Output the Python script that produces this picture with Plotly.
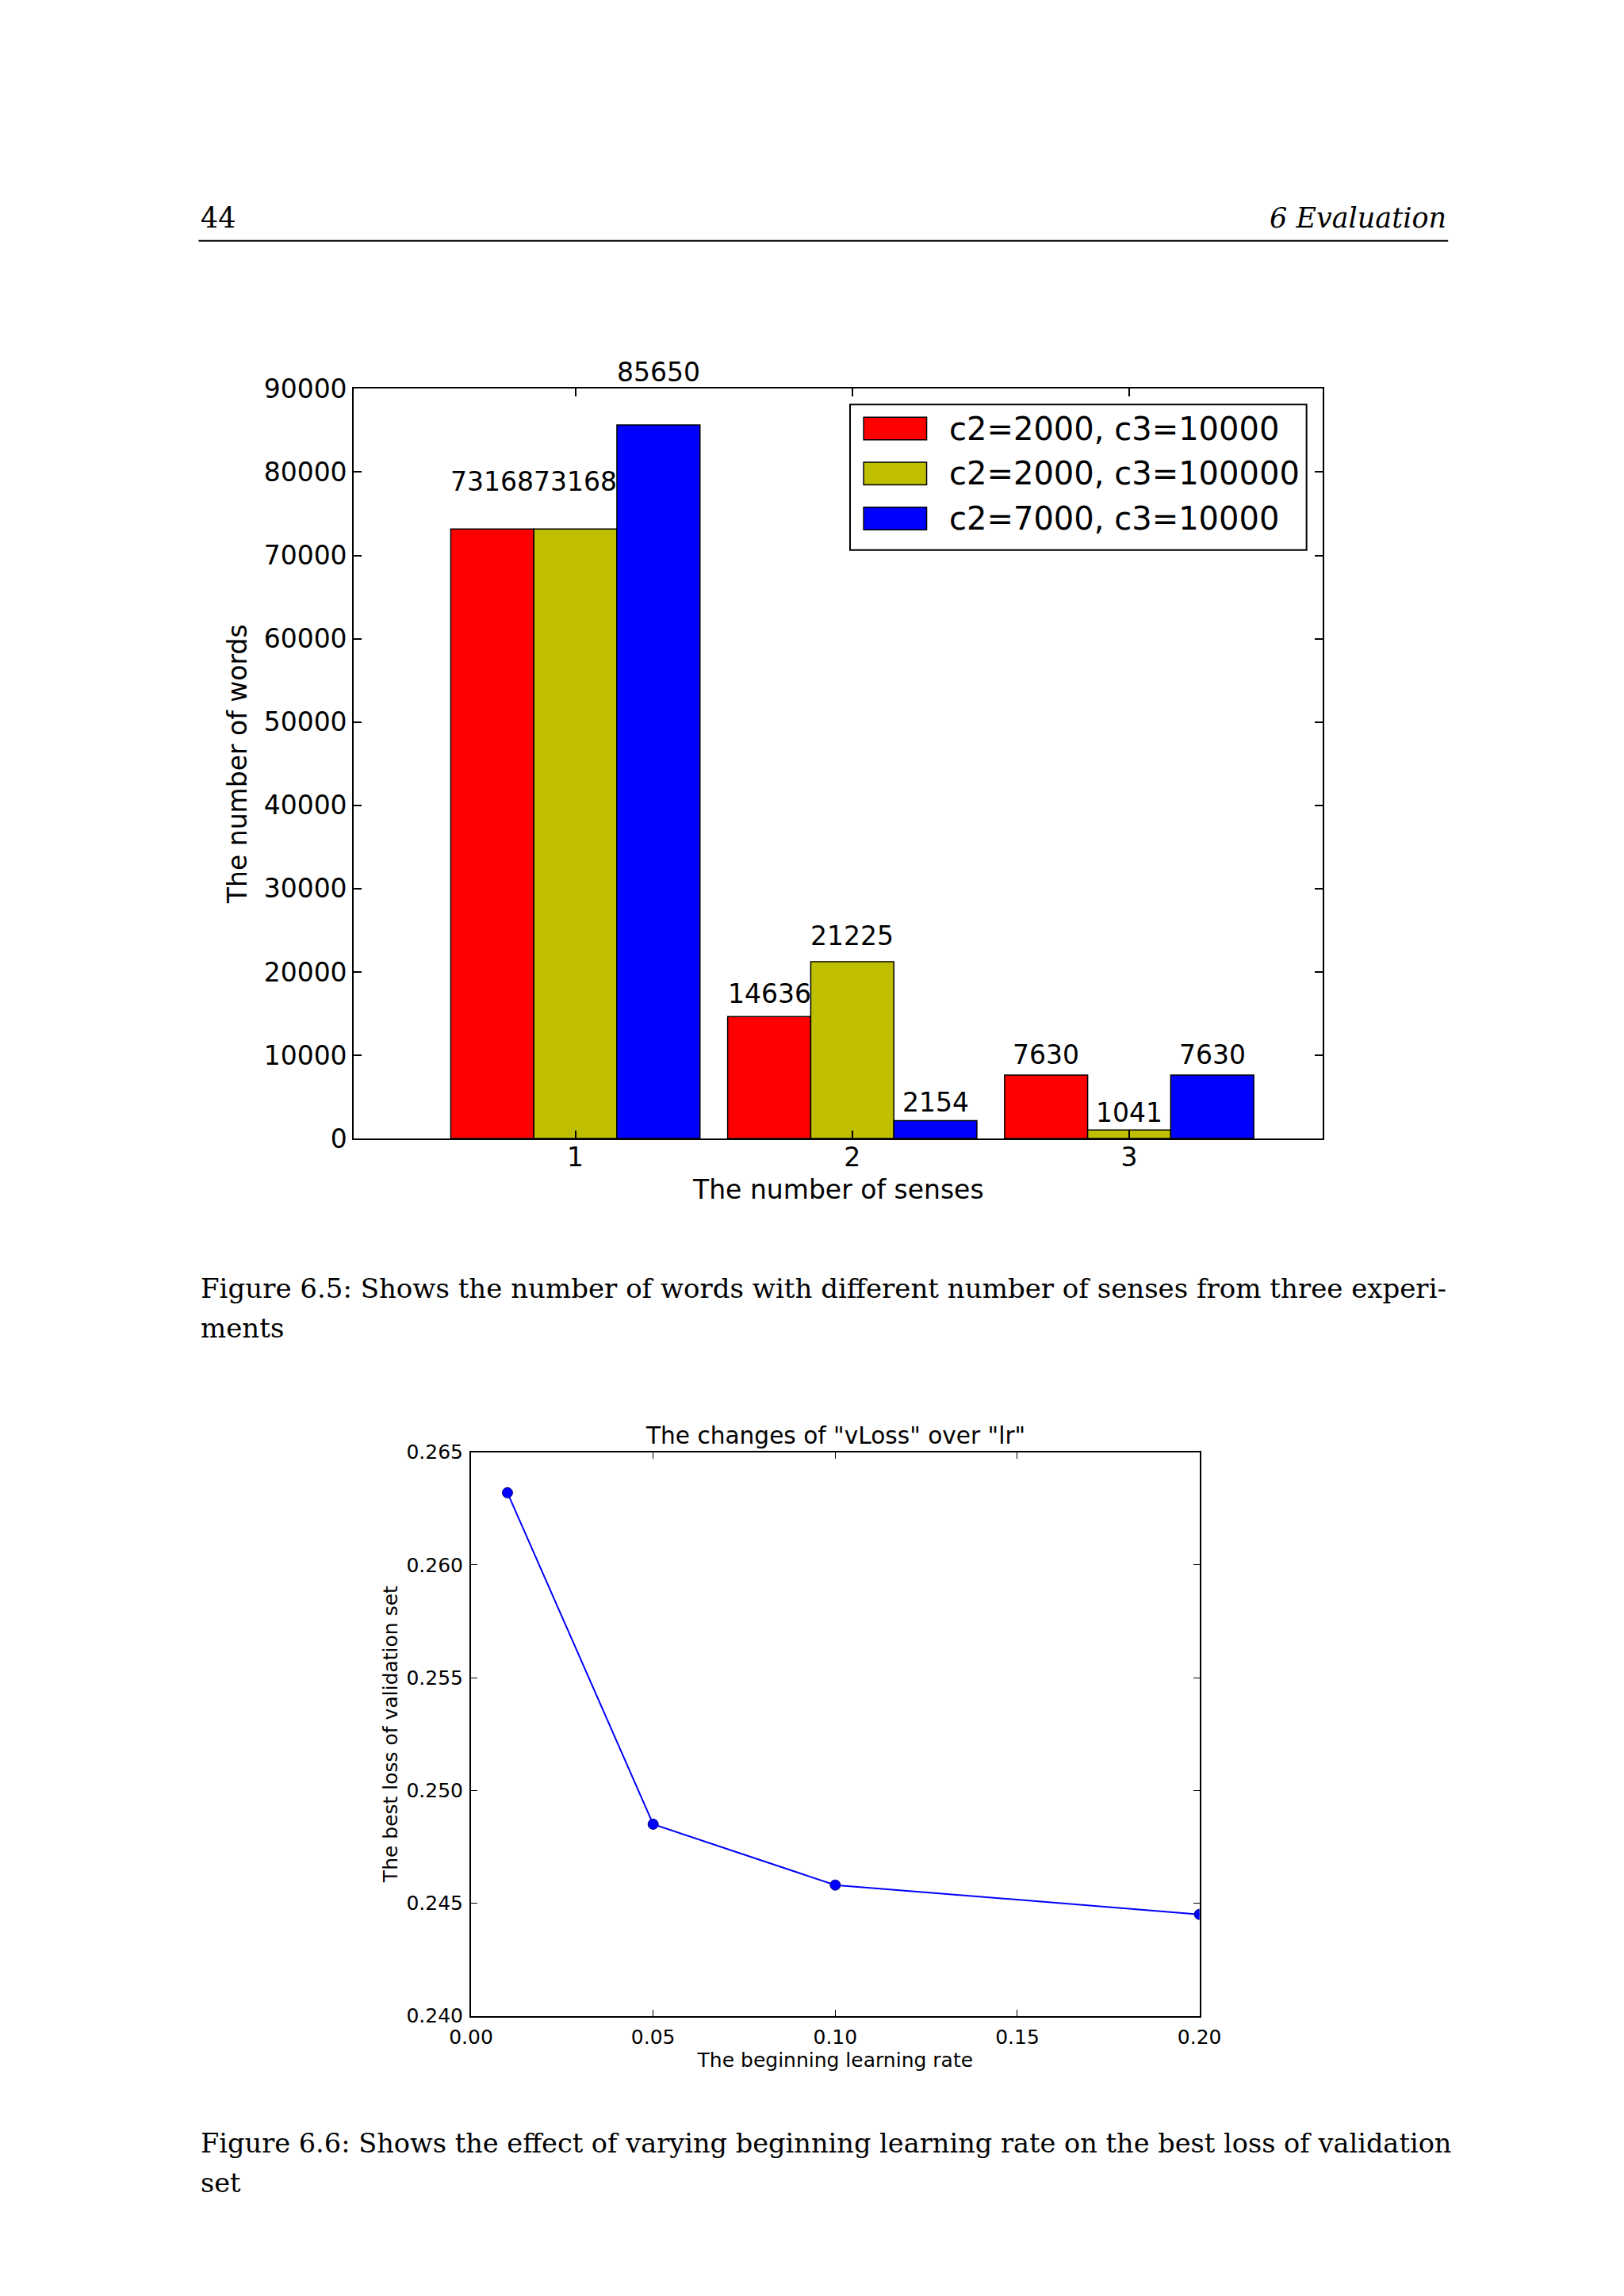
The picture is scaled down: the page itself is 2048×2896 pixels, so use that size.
import plotly.graph_objects as go

# figure 6.5 - number of words per number of senses
senses = [1, 2, 3]
series_names = ['c2=2000, c3=10000', 'c2=2000, c3=100000', 'c2=7000, c3=10000']
words_a = [73168, 14636, 7630]
words_b = [73168, 21225, 1041]
words_c = [85650, 2154, 7630]
bar_colors = ['#ff0000', '#bfbf00', '#0000ff']

# figure 6.6 - best validation loss vs beginning learning rate
lr = [0.01, 0.05, 0.10, 0.20]
vloss = [0.2632, 0.2485, 0.2458, 0.2445]

W, H = 2048, 2896
sans = 'DejaVu Sans'
serif = 'DejaVu Serif'

# page pixel -> paper fraction (small correction for how the page gets captured)
def px(x):
    return (1.0266 * x - 36.1) / W

def py(y):
    return 1 - (1.0123 * y - 24.3) / H

fig = go.Figure()

bar_w = 0.3
offsets = [-0.45, -0.15, 0.15]
annos = []
for name, vals, col, off in zip(series_names, [words_a, words_b, words_c], bar_colors, offsets):
    fig.add_trace(go.Bar(x=senses, y=vals, name=name, offset=off, width=bar_w,
                         marker=dict(color=col, line=dict(color='black', width=1.5)),
                         xaxis='x', yaxis='y', showlegend=False))
    for s, v in zip(senses, vals):
        annos.append(dict(x=s + off + bar_w / 2, y=1.05 * v, xref='x', yref='y',
                          text=str(v), showarrow=False, yanchor='bottom', xanchor='center',
                          font=dict(family=sans, size=33, color='black')))

fig.add_trace(go.Scatter(x=lr, y=vloss, mode='lines+markers', xaxis='x2', yaxis='y2',
                         line=dict(color='#0000ff', width=2),
                         marker=dict(color='#0000ff', size=13, line=dict(color='#000080', width=1)),
                         showlegend=False))

ax_base = dict(showline=True, linecolor='black', linewidth=2, mirror='ticks', ticks='inside',
               showgrid=False, zeroline=False, tickcolor='black')
fig.update_layout(
    xaxis=dict(ax_base, domain=[px(446), px(1670)], range=[0.2, 3.7], tickvals=senses,
               ticklen=10, tickwidth=1.5, tickfont=dict(family=sans, size=33, color='black'),
               ticklabelstandoff=-7,
               title=dict(text='The number of senses', font=dict(family=sans, size=33, color='black'), standoff=11),
               anchor='y'),
    yaxis=dict(ax_base, domain=[py(1435), py(488)], range=[0, 90000], dtick=10000, tickformat='d',
               ticklen=10, tickwidth=1.5, tickfont=dict(family=sans, size=33, color='black'),
               ticklabelstandoff=0,
               title=dict(text='The number of words', font=dict(family=sans, size=33, color='black'), standoff=11),
               anchor='x'),
    xaxis2=dict(ax_base, domain=[px(594), px(1514)], range=[0, 0.2], dtick=0.05, tickformat='.2f',
                ticklen=8, tickwidth=1.2, tickfont=dict(family=sans, size=25, color='black'),
                ticklabelstandoff=3,
                title=dict(text='The beginning learning rate', font=dict(family=sans, size=25, color='black'), standoff=0),
                anchor='y2'),
    yaxis2=dict(ax_base, domain=[py(2543), py(1831)], range=[0.240, 0.265], dtick=0.005, tickformat='.3f',
                ticklen=8, tickwidth=1.2, tickfont=dict(family=sans, size=25, color='black'),
                ticklabelstandoff=3,
                title=dict(text='The best loss of validation set', font=dict(family=sans, size=25, color='black'), standoff=4),
                anchor='x2'),
)

# legend drawn by hand to get the wide matplotlib-style swatches
shapes = [dict(type='rect', xref='x domain', yref='y domain', x0=0.512, x1=0.983, y0=0.785, y1=0.979,
               line=dict(color='black', width=2), fillcolor='white', layer='above')]
rows = [0.947, 0.887, 0.827]
for name, col, yc in zip(series_names, bar_colors, rows):
    shapes.append(dict(type='rect', xref='x domain', yref='y domain', x0=0.526, x1=0.591,
                       y0=yc - 0.015, y1=yc + 0.015, fillcolor=col,
                       line=dict(color='black', width=1.5), layer='above'))
    annos.append(dict(x=0.613, y=yc, xref='x domain', yref='y domain', text=name, showarrow=False,
                      xanchor='left', yanchor='middle', font=dict(family=sans, size=40, color='black')))

# page header
shapes.append(dict(type='line', xref='paper', yref='paper', x0=px(250), x1=px(1828), y0=py(301), y1=py(301),
                   line=dict(color='black', width=2)))
annos.append(dict(x=px(250), y=py(272), xref='paper', yref='paper', text='44', showarrow=False,
                  xanchor='left', yanchor='middle', font=dict(family=serif, size=35, color='black')))
annos.append(dict(x=px(1828), y=py(272), xref='paper', yref='paper', text='<i>6 Evaluation</i>', showarrow=False,
                  xanchor='right', yanchor='middle', font=dict(family=serif, size=35, color='black')))

# plot title of figure 6.6
annos.append(dict(x=(px(594) + px(1514)) / 2, y=py(1810), xref='paper', yref='paper',
                  text='The changes of "vLoss" over "lr"', showarrow=False, xanchor='center', yanchor='middle',
                  font=dict(family=sans, size=29.6, color='black')))

# captions
captions = [
    (1624, 'Figure 6.5: Shows the number of words with different number of senses from three experi-', 34),
    (1674, 'ments', 34),
    (2704, 'Figure 6.6: Shows the effect of varying beginning learning rate on the best loss of validation', 33.6),
    (2754, 'set', 33.6),
]
for yy, txt, fs in captions:
    annos.append(dict(x=px(250), y=py(yy), xref='paper', yref='paper', text=txt, showarrow=False,
                      xanchor='left', yanchor='middle', font=dict(family=serif, size=fs, color='black')))

fig.update_layout(width=W, height=H, margin=dict(l=0, r=0, t=0, b=0),
                  paper_bgcolor='white', plot_bgcolor='white', barmode='overlay',
                  shapes=shapes, annotations=annos, showlegend=False)

fig.write_html("out.html")
